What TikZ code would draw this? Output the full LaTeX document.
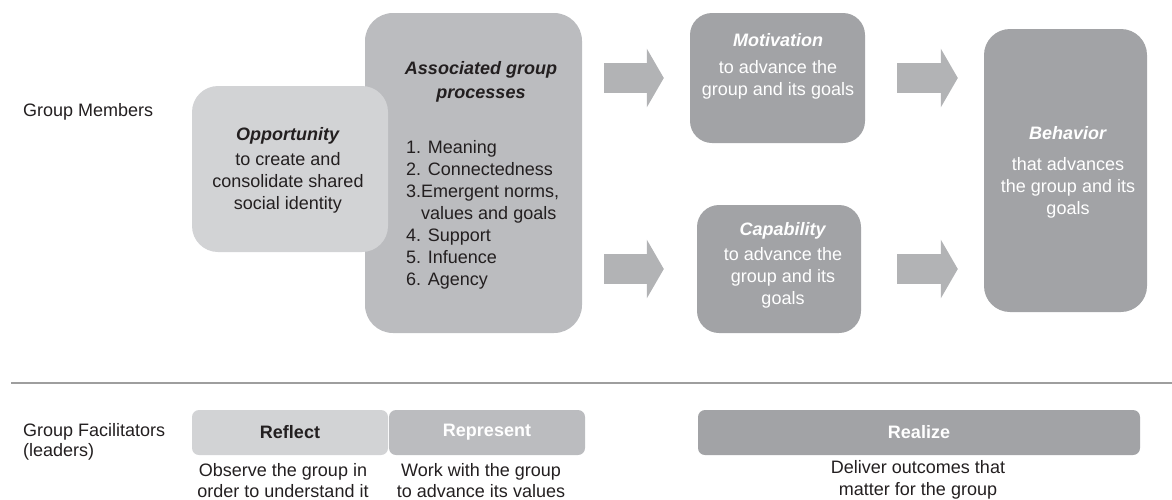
\documentclass[tikz,border=0pt]{standalone}
\usepackage{fontspec}
\setmainfont{Liberation Sans}
\usetikzlibrary{arrows.meta}

\definecolor{lightbox}{HTML}{D2D3D5}
\definecolor{midbox}{HTML}{BBBCBF}
\definecolor{darkbox}{HTML}{A2A3A6}
\definecolor{arrowfill}{HTML}{B2B3B5}
\definecolor{ink}{HTML}{231F20}
\definecolor{rulegray}{HTML}{9E9E9E}

\tikzset{
  panel/.style={rectangle, rounded corners=#1, inner sep=0pt, draw=none},
  bodytext/.style={font=\fontsize{18}{22}\selectfont, text=ink, inner sep=0pt, align=center},
  whitetext/.style={bodytext, text=white},
  fatarrow/.style={draw=arrowfill, line width=30pt, -{Triangle[length=17pt,width=58pt]}},
}
\newcommand{\heading}[1]{\textbf{\textit{#1}}}

\begin{document}
\begin{tikzpicture}[x=1pt, y=-1pt]
  \useasboundingbox (0,0) rectangle (1172,499);

  % group members row
  \node[panel=28pt, fill=midbox, minimum width=217pt, minimum height=320pt] (assoc) at (473.5,173) {};
  \node[panel=26pt, fill=lightbox, minimum width=196pt, minimum height=166pt] (opp) at (290,169) {};
  \node[panel=22pt, fill=darkbox, minimum width=175pt, minimum height=130pt] (mot) at (777.5,78) {};
  \node[panel=22pt, fill=darkbox, minimum width=164pt, minimum height=128pt] (cap) at (779,269) {};
  \node[panel=26pt, fill=darkbox, minimum width=163pt, minimum height=283pt] (beh) at (1065.5,170.5) {};

  \node[bodytext, anchor=west] (members) at (23,112) {Group Members};
  \node[bodytext] (opptext) at (288,170) {\heading{Opportunity}\\[3pt] to create and\\ consolidate shared\\ social identity};
  \node[bodytext] (assochead) at (481,82) {\heading{Associated group}\\[2pt] \heading{processes}};
  \node[bodytext, align=left, anchor=west] (assoclist) at (406,215) {1. Meaning\\ 2. Connectedness\\ 3.Emergent norms,\\ \phantom{3.}values and goals\\ 4. Support\\ 5. Infuence\\ 6. Agency};
  \node[whitetext] (mottext) at (778,66) {\heading{Motivation}\\[5pt] to advance the\\ group and its goals};
  \node[whitetext] (captext) at (783,265) {\heading{Capability}\\[3pt] to advance the\\ group and its\\ goals};
  \node[whitetext] (behtext) at (1068,172) {\heading{Behavior}\\[9pt] that advances\\ the group and its\\ goals};

  \draw[fatarrow, shorten <=22pt, shorten >=26pt] (assoc.east |- mot.west) -- (mot.west);
  \draw[fatarrow, shorten <=22pt, shorten >=33pt] (assoc.east |- cap.west) -- (cap.west);
  \draw[fatarrow, shorten <=32pt, shorten >=26pt] (mot.east) -- (mot.east -| beh.west);
  \draw[fatarrow, shorten <=36pt, shorten >=26pt] (cap.east) -- (cap.east -| beh.west);

  \draw[rulegray, line width=1.5pt] (11,383) -- (1172,383);

  % group facilitators row
  \node[bodytext, align=left, anchor=west, font=\fontsize{18}{20}\selectfont] (leaders) at (23,442) {Group Facilitators\\ (leaders)};
  \node[panel=7pt, fill=lightbox, minimum width=196pt, minimum height=45pt, bodytext] (reflect) at (290,432.5) {\textbf{Reflect}};
  \node[panel=7pt, fill=midbox, minimum width=196pt, minimum height=45pt, whitetext] (represent) at (487,432.5) {\textbf{Represent}};
  \node[panel=7pt, fill=darkbox, minimum width=442pt, minimum height=45pt, whitetext] (realize) at (919,432.5) {\textbf{Realize}};

  \node[bodytext, font=\fontsize{18}{21}\selectfont] (observe) at (283,480.5) {Observe the group in\\ order to understand it};
  \node[bodytext, font=\fontsize{18}{21}\selectfont] (work) at (481,480.5) {Work with the group\\ to advance its values};
  \node[bodytext] (deliver) at (918,480) {Deliver outcomes that\\ matter for the group};
\end{tikzpicture}
\end{document}
